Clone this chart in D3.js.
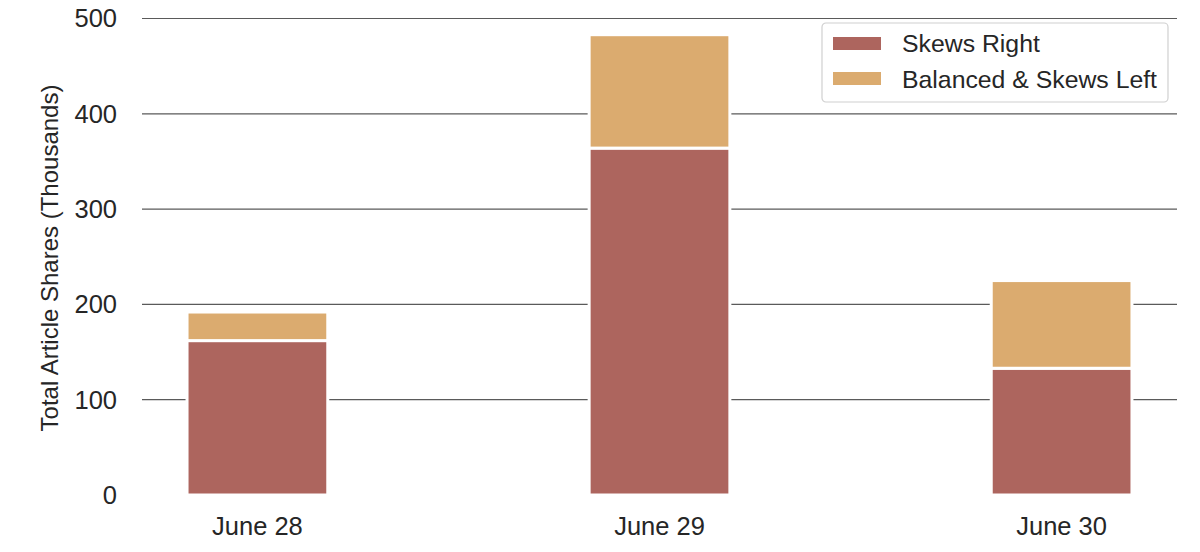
<!DOCTYPE html>
<html>
<head>
<meta charset="utf-8">
<script src="https://cdn.jsdelivr.net/npm/d3@7"></script>
<style>
  body { margin: 0; background: #fff; }
  svg { display: block; font-family: "Liberation Sans", Arial, sans-serif; }
</style>
</head>
<body>
<svg id="chart" width="1200" height="552"></svg>
<script>
const days = ["June 28", "June 29", "June 30"];
const skewsRight = [162, 364, 133];
const balancedLeft = [30, 119, 92];
const yTicks = [0, 100, 200, 300, 400, 500];
const seriesNames = ["Skews Right", "Balanced & Skews Left"];
const colors = ["#ad655e", "#dbab6f"];

const svg = d3.select("#chart");
const left = 142, right = 1177;

const x = d3.scaleBand()
  .domain(days)
  .range([left, right])
  .paddingInner(0.65)
  .paddingOuter(0.112);

const y = d3.scaleLinear().domain([0, 500]).range([495, 18.5]);

// grid (no line at zero)
svg.append("g")
  .selectAll("line")
  .data(yTicks.filter(d => d > 0))
  .join("line")
  .attr("x1", left).attr("x2", right)
  .attr("y1", d => y(d)).attr("y2", d => y(d))
  .attr("stroke", "#5a5a5a")
  .attr("stroke-width", 1.2);

// y tick labels
svg.append("g")
  .selectAll("text")
  .data(yTicks)
  .join("text")
  .attr("x", 117)
  .attr("y", d => y(d))
  .attr("dy", "0.35em")
  .attr("text-anchor", "end")
  .attr("font-size", 25.5)
  .attr("fill", "#262626")
  .text(d => d);

// stacked bars
const rows = days.map((d, i) => ({ day: d, a: skewsRight[i], b: balancedLeft[i] }));
const stacked = d3.stack().keys(["a", "b"])(rows);

svg.append("g")
  .selectAll("g")
  .data(stacked)
  .join("g")
  .attr("fill", (d, i) => colors[i])
  .selectAll("rect")
  .data(d => d)
  .join("rect")
  .attr("x", d => x(d.data.day))
  .attr("width", x.bandwidth())
  .attr("y", d => y(d[1]))
  .attr("height", d => y(d[0]) - y(d[1]))
  .attr("stroke", "#fff")
  .attr("stroke-width", 3);

// x tick labels
svg.append("g")
  .selectAll("text")
  .data(days)
  .join("text")
  .attr("x", d => x(d) + x.bandwidth() / 2)
  .attr("y", 535)
  .attr("text-anchor", "middle")
  .attr("font-size", 25.5)
  .attr("fill", "#262626")
  .text(d => d);

// y axis title
svg.append("text")
  .attr("transform", "translate(58,258) rotate(-90)")
  .attr("text-anchor", "middle")
  .attr("font-size", 24)
  .attr("fill", "#262626")
  .text("Total Article Shares (Thousands)");

// legend
const lg = svg.append("g").attr("transform", "translate(822,23)");
lg.append("rect")
  .attr("width", 346).attr("height", 79)
  .attr("rx", 4)
  .attr("fill", "#fff")
  .attr("stroke", "#d0d0d0")
  .attr("stroke-width", 1.2);
seriesNames.forEach((name, i) => {
  lg.append("rect")
    .attr("x", 11).attr("y", 14 + i * 35)
    .attr("width", 48).attr("height", 13)
    .attr("fill", colors[i]);
  lg.append("text")
    .attr("x", 80).attr("y", 29 + i * 36)
    .attr("font-size", 24.8)
    .attr("fill", "#262626")
    .text(name);
});
</script>
</body>
</html>
